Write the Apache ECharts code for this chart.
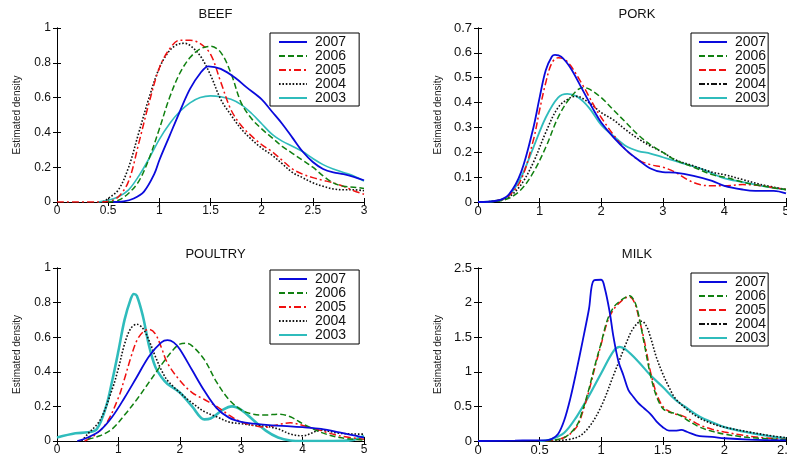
<!DOCTYPE html>
<html>
<head>
<meta charset="utf-8">
<script src="https://cdn.jsdelivr.net/npm/echarts@6/dist/echarts.min.js"></script>
<style>
  html, body { margin: 0; padding: 0; background: #fff; }
  #chart { width: 787px; height: 454px; }
</style>
</head>
<body>
<div id="chart"></div>
<script>
// Estimated price-ratio densities by product and year, [x, density] pairs.
const years = ['2007', '2006', '2005', '2004', '2003'];

const beef2007 = [[0.55,0],[0.65,0.003],[0.75,0.02],[0.85,0.06],[0.95,0.16],[1.0,0.24],[1.1,0.38],[1.2,0.52],[1.3,0.65],[1.4,0.74],[1.48,0.78],[1.6,0.765],[1.75,0.71],[1.85,0.66],[2.0,0.59],[2.1,0.52],[2.2,0.45],[2.3,0.37],[2.4,0.29],[2.5,0.23],[2.6,0.19],[2.7,0.17],[2.8,0.16],[2.9,0.145],[3.0,0.125]];
const beef2006 = [[0.5,0],[0.6,0.01],[0.7,0.05],[0.8,0.12],[0.9,0.25],[1.0,0.42],[1.1,0.6],[1.2,0.74],[1.3,0.83],[1.4,0.88],[1.5,0.895],[1.6,0.86],[1.7,0.74],[1.8,0.57],[1.9,0.48],[2.0,0.42],[2.1,0.37],[2.2,0.32],[2.3,0.28],[2.4,0.24],[2.5,0.2],[2.6,0.15],[2.7,0.11],[2.8,0.09],[2.9,0.085],[3.0,0.078]];
const beef2005 = [[0,0],[0.4,0],[0.5,0.003],[0.6,0.03],[0.7,0.12],[0.8,0.34],[0.9,0.57],[1.0,0.77],[1.1,0.88],[1.2,0.93],[1.3,0.93],[1.4,0.91],[1.5,0.85],[1.6,0.69],[1.7,0.53],[1.8,0.44],[1.9,0.38],[2.0,0.33],[2.1,0.29],[2.2,0.24],[2.3,0.19],[2.4,0.16],[2.5,0.14],[2.6,0.125],[2.7,0.11],[2.8,0.09],[2.9,0.065],[3.0,0.045]];
const beef2004 = [[0.45,0],[0.5,0.02],[0.6,0.07],[0.7,0.2],[0.8,0.4],[0.9,0.6],[1.0,0.77],[1.1,0.87],[1.2,0.91],[1.25,0.912],[1.3,0.9],[1.4,0.84],[1.5,0.73],[1.6,0.59],[1.7,0.5],[1.8,0.42],[1.9,0.36],[2.0,0.31],[2.1,0.27],[2.2,0.22],[2.3,0.17],[2.4,0.14],[2.5,0.11],[2.6,0.09],[2.7,0.075],[2.8,0.07],[2.9,0.07],[3.0,0.065]];
const beef2003 = [[0.4,0],[0.5,0.01],[0.6,0.03],[0.7,0.07],[0.8,0.15],[0.9,0.25],[1.0,0.36],[1.1,0.45],[1.2,0.52],[1.3,0.57],[1.4,0.6],[1.5,0.61],[1.6,0.605],[1.7,0.59],[1.8,0.56],[1.9,0.51],[2.0,0.45],[2.1,0.39],[2.2,0.35],[2.3,0.32],[2.4,0.29],[2.5,0.25],[2.6,0.215],[2.7,0.19],[2.8,0.17],[2.9,0.15],[3.0,0.12]];

const pork2007 = [[0,0],[0.3,0.005],[0.5,0.03],[0.7,0.12],[0.9,0.3],[1.0,0.42],[1.1,0.53],[1.2,0.585],[1.25,0.592],[1.35,0.585],[1.5,0.54],[1.7,0.45],[1.9,0.36],[2.0,0.32],[2.2,0.26],[2.4,0.21],[2.6,0.17],[2.8,0.135],[3.0,0.12],[3.2,0.118],[3.5,0.105],[3.8,0.085],[4.0,0.065],[4.3,0.05],[4.5,0.045],[4.8,0.045],[5.0,0.035]];
const pork2006 = [[0,0],[0.3,0.003],[0.5,0.015],[0.7,0.05],[0.9,0.12],[1.1,0.22],[1.3,0.34],[1.5,0.42],[1.7,0.46],[1.8,0.455],[2.0,0.42],[2.2,0.37],[2.4,0.32],[2.6,0.27],[2.8,0.23],[3.0,0.2],[3.2,0.17],[3.5,0.14],[3.8,0.11],[4.0,0.1],[4.3,0.08],[4.6,0.065],[5.0,0.05]];
const pork2005 = [[0,0],[0.3,0.005],[0.5,0.025],[0.7,0.09],[0.9,0.25],[1.0,0.37],[1.1,0.48],[1.2,0.56],[1.3,0.58],[1.4,0.575],[1.5,0.55],[1.7,0.47],[1.9,0.38],[2.0,0.34],[2.2,0.27],[2.4,0.21],[2.6,0.17],[2.8,0.15],[3.0,0.14],[3.2,0.12],[3.4,0.09],[3.6,0.07],[3.8,0.065],[4.0,0.065],[4.3,0.07],[4.6,0.065],[5.0,0.05]];
const pork2004 = [[0,0],[0.3,0.004],[0.5,0.02],[0.7,0.07],[0.9,0.16],[1.1,0.28],[1.3,0.38],[1.5,0.42],[1.6,0.425],[1.8,0.4],[2.0,0.36],[2.2,0.33],[2.4,0.29],[2.6,0.255],[2.8,0.225],[3.0,0.2],[3.2,0.17],[3.5,0.145],[3.8,0.12],[4.0,0.11],[4.3,0.09],[4.6,0.07],[5.0,0.05]];
const pork2003 = [[0,0],[0.3,0.005],[0.5,0.025],[0.7,0.1],[0.9,0.22],[1.1,0.34],[1.3,0.42],[1.45,0.435],[1.6,0.425],[1.8,0.38],[2.0,0.31],[2.2,0.265],[2.4,0.225],[2.6,0.205],[2.8,0.195],[3.0,0.18],[3.2,0.165],[3.4,0.15],[3.6,0.135],[3.8,0.115],[4.0,0.095],[4.3,0.08],[4.6,0.065],[5.0,0.05]];

const poultry2007 = [[0.33,0],[0.5,0.02],[0.7,0.06],[0.9,0.14],[1.1,0.25],[1.3,0.37],[1.5,0.49],[1.7,0.57],[1.8,0.583],[1.9,0.57],[2.0,0.53],[2.2,0.41],[2.4,0.29],[2.6,0.19],[2.8,0.135],[3.0,0.11],[3.2,0.1],[3.5,0.09],[3.8,0.085],[4.0,0.08],[4.3,0.07],[4.6,0.05],[5.0,0.02]];
const poultry2006 = [[0.5,0.01],[0.7,0.03],[0.9,0.07],[1.1,0.15],[1.3,0.24],[1.5,0.34],[1.7,0.44],[1.9,0.53],[2.0,0.56],[2.1,0.565],[2.2,0.55],[2.4,0.47],[2.6,0.34],[2.8,0.24],[3.0,0.18],[3.2,0.155],[3.4,0.15],[3.6,0.155],[3.8,0.14],[4.0,0.1],[4.3,0.05],[4.6,0.02],[5.0,0.005]];
const poultry2005 = [[0.45,0],[0.6,0.03],[0.8,0.1],[1.0,0.25],[1.1,0.36],[1.2,0.48],[1.3,0.58],[1.4,0.63],[1.5,0.645],[1.6,0.62],[1.7,0.54],[1.8,0.45],[2.0,0.35],[2.2,0.28],[2.4,0.24],[2.6,0.2],[2.8,0.15],[3.0,0.11],[3.2,0.09],[3.4,0.08],[3.6,0.095],[3.8,0.105],[4.0,0.09],[4.3,0.06],[4.6,0.03],[5.0,0.01]];
const poultry2004 = [[0.4,0],[0.5,0.04],[0.7,0.12],[0.9,0.3],[1.0,0.42],[1.1,0.56],[1.2,0.65],[1.3,0.675],[1.4,0.65],[1.5,0.58],[1.6,0.49],[1.7,0.41],[1.8,0.35],[2.0,0.28],[2.2,0.22],[2.4,0.17],[2.6,0.14],[2.8,0.11],[3.0,0.1],[3.2,0.09],[3.4,0.085],[3.6,0.07],[3.8,0.04],[4.0,0.03],[4.3,0.062],[4.6,0.045],[4.9,0.04],[5.0,0.04]];
const poultry2003 = [[0,0.02],[0.3,0.045],[0.5,0.05],[0.65,0.07],[0.8,0.2],[0.9,0.35],[1.0,0.52],[1.1,0.7],[1.2,0.82],[1.25,0.85],[1.3,0.84],[1.4,0.72],[1.5,0.55],[1.6,0.43],[1.7,0.37],[1.8,0.33],[2.0,0.28],[2.2,0.2],[2.4,0.125],[2.5,0.13],[2.7,0.18],[2.85,0.2],[3.0,0.18],[3.2,0.12],[3.4,0.06],[3.6,0.02],[3.8,0.003],[4.0,0],[4.5,0],[4.8,0.005],[5.0,0.03]];

const milk2007 = [[0,0],[0.3,0.005],[0.45,0.01],[0.55,0.01],[0.6,0.03],[0.65,0.1],[0.7,0.3],[0.75,0.62],[0.8,1.02],[0.85,1.45],[0.9,1.9],[0.94,2.32],[1.0,2.33],[1.03,2.2],[1.07,1.85],[1.1,1.5],[1.14,1.15],[1.18,0.95],[1.22,0.74],[1.26,0.64],[1.3,0.55],[1.35,0.47],[1.4,0.39],[1.45,0.28],[1.5,0.2],[1.55,0.15],[1.6,0.15],[1.65,0.16],[1.7,0.13],[1.8,0.07],[1.9,0.06],[2.0,0.04],[2.2,0.02],[2.5,0.01]];
const milk2006 = [[0.55,0],[0.7,0.05],[0.8,0.22],[0.85,0.45],[0.9,0.75],[0.95,1.1],[1.0,1.42],[1.05,1.75],[1.1,1.93],[1.15,2.02],[1.2,2.08],[1.23,2.1],[1.27,2.02],[1.3,1.85],[1.35,1.4],[1.4,0.95],[1.45,0.64],[1.5,0.47],[1.55,0.42],[1.6,0.4],[1.65,0.36],[1.7,0.3],[1.8,0.2],[1.9,0.14],[2.0,0.1],[2.2,0.05],[2.5,0.02]];
const milk2005 = [[0.55,0],[0.7,0.05],[0.8,0.2],[0.85,0.42],[0.9,0.72],[0.95,1.07],[1.0,1.4],[1.05,1.72],[1.1,1.9],[1.15,2.0],[1.2,2.07],[1.23,2.08],[1.27,2.0],[1.3,1.82],[1.35,1.45],[1.4,1.0],[1.45,0.68],[1.5,0.5],[1.55,0.43],[1.6,0.39],[1.65,0.37],[1.7,0.33],[1.8,0.23],[1.9,0.17],[2.0,0.13],[2.2,0.07],[2.5,0.02]];
const milk2004 = [[0.6,0],[0.8,0.05],[0.9,0.2],[1.0,0.5],[1.1,0.95],[1.2,1.4],[1.25,1.6],[1.3,1.71],[1.33,1.73],[1.37,1.65],[1.4,1.5],[1.45,1.2],[1.5,0.97],[1.55,0.78],[1.6,0.62],[1.7,0.45],[1.8,0.33],[1.9,0.25],[2.0,0.2],[2.2,0.13],[2.4,0.07],[2.5,0.05]];
const milk2003 = [[0.5,0],[0.6,0.03],[0.7,0.12],[0.8,0.35],[0.9,0.65],[1.0,0.98],[1.1,1.3],[1.15,1.36],[1.2,1.32],[1.3,1.15],[1.4,0.95],[1.5,0.78],[1.6,0.6],[1.7,0.47],[1.8,0.35],[1.9,0.27],[2.0,0.2],[2.2,0.12],[2.4,0.06],[2.5,0.04]];

// Tick ranges per panel
const beefTicks = { xMax: 3, xStep: 0.5, yMax: 1, yStep: 0.2 };
const porkTicks = { xMax: 5, xStep: 1, yMax: 0.7, yStep: 0.1 };
const poultryTicks = { xMax: 5, xStep: 1, yMax: 1, yStep: 0.2 };
const milkTicks = { xMax: 2.5, xStep: 0.5, yMax: 2.5, yStep: 0.5 };

const FONT = '"Liberation Sans", Arial, sans-serif';
const colors = ['#0a0adc', '#108010', '#f01010', '#111111', '#2fbcbc'];
const dashes = ['solid', [6, 3], [7, 3, 2, 3], [1.6, 1.8], 'solid'];

const panels = [
  { title: 'BEEF', data: [beef2007, beef2006, beef2005, beef2004, beef2003], ticks: beefTicks,
    grid: { left: 57, top: 28, width: 307, height: 174 }, legend: { left: 270, top: 33, padding: [2, 13, 1, 8] },
    widths: [1.8, 1.5, 1.5, 1.6, 1.6], labelSize: 12 },
  { title: 'PORK', data: [pork2007, pork2006, pork2005, pork2004, pork2003], ticks: porkTicks,
    grid: { left: 478, top: 28, width: 308, height: 174 }, legend: { left: 691, top: 33, padding: [2, 2, 1, 7] },
    widths: [1.8, 1.5, 1.5, 1.6, 1.8], legendDash: { 2: [7, 3], 3: [6, 2, 2, 2] }, labelSize: 13 },
  { title: 'POULTRY', data: [poultry2007, poultry2006, poultry2005, poultry2004, poultry2003], ticks: poultryTicks,
    grid: { left: 57, top: 268, width: 307, height: 173 }, legend: { left: 270, top: 270, padding: [2, 13, 2, 8] },
    widths: [1.8, 1.5, 1.5, 1.6, 2.6], labelSize: 12 },
  { title: 'MILK', data: [milk2007, milk2006, milk2005, milk2004, milk2003], ticks: milkTicks,
    grid: { left: 478, top: 268, width: 308, height: 173 }, legend: { left: 691, top: 273, padding: [2, 2, 1, 7] },
    widths: [1.8, 1.5, 1.5, 1.6, 2.2], legendDash: { 2: [7, 3], 3: [6, 2, 2, 2] }, labelSize: 13 }
];

const grids = [], xAxes = [], yAxes = [], series = [], legends = [], titles = [];
const axisLine = { show: true, lineStyle: { color: '#000', width: 1 } };

panels.forEach((p, i) => {
  grids.push(Object.assign({ outerBoundsMode: 'none', containLabel: false }, p.grid));
  const t = p.ticks;
  const base = {
    gridIndex: i, type: 'value', min: 0, axisLine: axisLine,
    axisTick: { show: true, inside: true, length: 4, lineStyle: { color: '#000' } },
    splitLine: { show: false }
  };
  xAxes.push(Object.assign({}, base, {
    position: 'bottom', max: t.xMax, interval: t.xStep,
    axisLabel: { show: true, margin: 3, color: '#111', fontSize: p.labelSize, fontFamily: FONT, showMinLabel: true, showMaxLabel: true, hideOverlap: false }
  }));
  xAxes.push(Object.assign({}, base, {
    position: 'top', max: t.xMax, interval: t.xStep, axisLabel: { show: false }
  }));
  yAxes.push(Object.assign({}, base, {
    position: 'left', max: t.yMax, interval: t.yStep,
    name: 'Estimated density', nameLocation: 'middle', nameGap: 35,
    nameTextStyle: { fontSize: 10, color: '#222', fontFamily: FONT },
    axisLabel: { show: true, margin: 6, color: '#111', fontSize: p.labelSize, fontFamily: FONT, showMinLabel: true, showMaxLabel: true }
  }));
  yAxes.push(Object.assign({}, base, {
    position: 'right', max: t.yMax, interval: t.yStep, axisLabel: { show: false }
  }));

  const names = [];
  p.data.forEach((d, k) => {
    const name = p.title + ' ' + years[k];
    names.push(name);
    series.push({
      name: name, type: 'line', xAxisIndex: 2 * i, yAxisIndex: 2 * i,
      data: d, symbol: 'none', showSymbol: false, smooth: 0.35, z: 2 + (4 - k),
      lineStyle: { color: colors[k], width: p.widths[k], type: dashes[k] },
      itemStyle: { color: colors[k] }
    });
  });

  legends.push({
    orient: 'vertical', left: p.legend.left, top: p.legend.top, padding: p.legend.padding,
    backgroundColor: '#fff', borderColor: '#000', borderWidth: 1,
    itemWidth: 28, itemHeight: 13, itemGap: 0, selectedMode: false, z: 10,
    // line-only keys: the marker in the middle is made invisible
    itemStyle: { color: 'rgba(0,0,0,0)', borderColor: 'rgba(0,0,0,0)', borderWidth: 0, opacity: 0 },
    textStyle: { fontSize: 14, fontFamily: FONT, color: '#111', lineHeight: 13, padding: [0, 0, 0, 3] },
    formatter: n => n.split(' ')[1],
    data: names.map((n, k) => {
      const item = { name: n };
      if (p.legendDash && p.legendDash[k]) item.lineStyle = { type: p.legendDash[k] };
      return item;
    })
  });

  titles.push({
    text: p.title, left: p.grid.left + p.grid.width / 2, textAlign: 'center',
    top: p.grid.top - 25,
    textStyle: { fontSize: 13, fontWeight: 'normal', color: '#111', fontFamily: FONT }
  });
});

const chart = echarts.init(document.getElementById('chart'), null, { renderer: 'canvas' });
chart.setOption({
  animation: false,
  backgroundColor: '#fff',
  title: titles,
  grid: grids,
  xAxis: xAxes,
  yAxis: yAxes,
  legend: legends,
  series: series
});
</script>
</body>
</html>
